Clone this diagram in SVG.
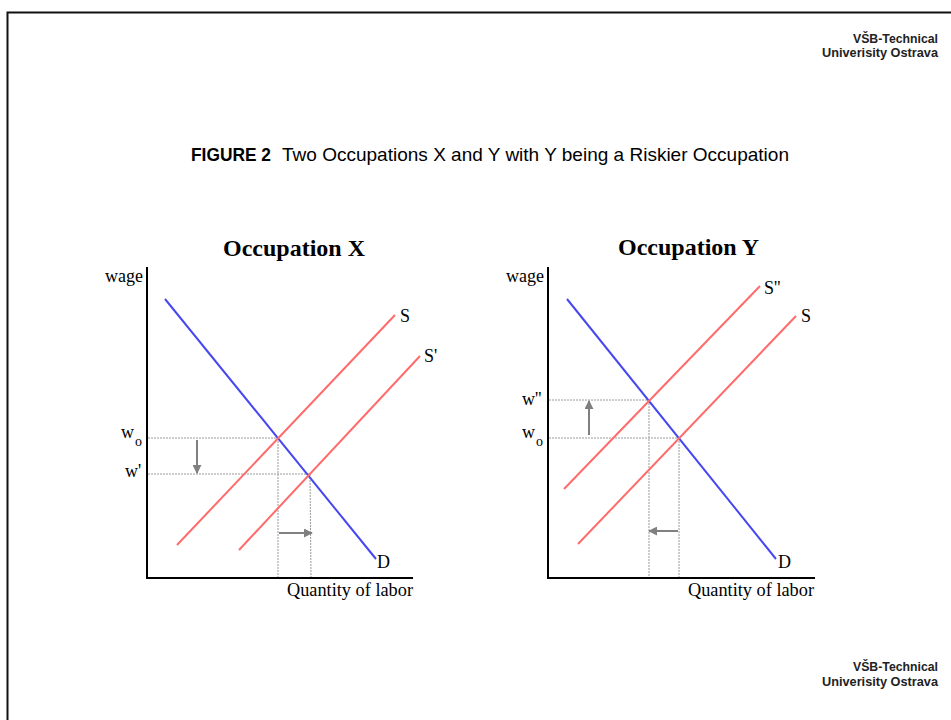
<svg xmlns="http://www.w3.org/2000/svg" width="951" height="720" viewBox="0 0 951 720">
<style>
.frame{fill:none;stroke:#111;stroke-width:2}
.axis{stroke:#000;stroke-width:2;fill:none}
.dem{stroke:#4747f0;stroke-width:2;fill:none}
.sup{stroke:#ff6b6b;stroke-width:2;fill:none}
.dot{stroke:#9a9a9a;stroke-width:1;stroke-dasharray:2 1;fill:none}
.arr{stroke:#808080;stroke-width:2;fill:none}
.lbl{font-family:"Liberation Serif","Times New Roman",serif;font-size:18px;fill:#000}
.sub{font-family:"Liberation Serif","Times New Roman",serif;font-size:14px;fill:#000}
.ttl{font-family:"Liberation Serif","Times New Roman",serif;font-size:24px;font-weight:bold;fill:#000}
.hdr{font-family:"Liberation Sans",Arial,sans-serif;font-size:12.5px;font-weight:bold;fill:#222;text-anchor:end}
.fig{font-family:"Liberation Sans",Arial,sans-serif;font-size:18.5px;fill:#000}
</style>
<defs>
<marker id="ah" viewBox="0 0 10 10" refX="9" refY="5" markerWidth="4.5" markerHeight="4.5" orient="auto" markerUnits="strokeWidth">
<path d="M0,0 L10,5 L0,10 z" fill="#808080"/>
</marker>
</defs>
<rect width="951" height="720" fill="#fff"/>
<path class="frame" d="M7.5,721 V12.5 H952"/>

<g id="header">
<text class="hdr" x="938" y="43" textLength="85" lengthAdjust="spacingAndGlyphs">VŠB-Technical</text>
<text class="hdr" x="938" y="57" textLength="116" lengthAdjust="spacingAndGlyphs">Univerisity Ostrava</text>
</g>
<g id="footer">
<text class="hdr" x="938" y="671" textLength="85" lengthAdjust="spacingAndGlyphs">VŠB-Technical</text>
<text class="hdr" x="938" y="686" textLength="116" lengthAdjust="spacingAndGlyphs">Univerisity Ostrava</text>
</g>
<g id="figure-title">
<text class="fig" x="191" y="161" font-weight="bold" textLength="80" lengthAdjust="spacingAndGlyphs">FIGURE 2</text>
<text class="fig" x="282" y="161" textLength="507" lengthAdjust="spacingAndGlyphs">Two Occupations X and Y with Y being a Riskier Occupation</text>
</g>

<!-- Occupation X -->
<g id="chartX">
<text class="ttl" x="223" y="256">Occupation X</text>
<g id="axesX">
<line class="axis" x1="147" y1="267" x2="147" y2="579"/>
<line class="axis" x1="146" y1="578" x2="413" y2="578"/>
<text class="lbl" x="143" y="282" text-anchor="end">wage</text>
<text class="lbl" x="287" y="596" textLength="126" lengthAdjust="spacingAndGlyphs">Quantity of labor</text>
</g>
<g id="guidesX">
<line class="dot" x1="148" y1="438" x2="278" y2="438"/>
<line class="dot" x1="148" y1="474" x2="309" y2="474"/>
<line class="dot" x1="278" y1="438" x2="278" y2="577"/>
<line class="dot" x1="310" y1="474" x2="311" y2="577"/>
<text class="lbl" x="121" y="438">w</text><text class="sub" x="135" y="446">o</text>
<text class="lbl" x="125" y="477">w'</text>
</g>
<g id="demandX">
<line class="dem" x1="165" y1="299" x2="376" y2="559"/>
<text class="lbl" x="377" y="568">D</text>
</g>
<g id="supplyX">
<line class="sup" x1="177" y1="545" x2="395" y2="315"/>
<text class="lbl" x="400" y="322">S</text>
</g>
<g id="supplyX2">
<line class="sup" x1="239" y1="550" x2="420" y2="356"/>
<text class="lbl" x="424" y="362">S'</text>
</g>
<g id="arrowsX">
<line class="arr" x1="197" y1="440" x2="197" y2="473" marker-end="url(#ah)"/>
<line class="arr" x1="279" y1="533" x2="312" y2="533" marker-end="url(#ah)"/>
</g>
</g>

<!-- Occupation Y -->
<g id="chartY">
<text class="ttl" x="618" y="255">Occupation Y</text>
<g id="axesY">
<line class="axis" x1="548" y1="267" x2="548" y2="579"/>
<line class="axis" x1="547" y1="578" x2="815" y2="578"/>
<text class="lbl" x="544" y="282" text-anchor="end">wage</text>
<text class="lbl" x="688" y="596" textLength="126" lengthAdjust="spacingAndGlyphs">Quantity of labor</text>
</g>
<g id="guidesY">
<line class="dot" x1="549" y1="400" x2="649" y2="400"/>
<line class="dot" x1="549" y1="438" x2="679" y2="438"/>
<line class="dot" x1="649" y1="400" x2="649" y2="577"/>
<line class="dot" x1="679" y1="438" x2="679" y2="577"/>
<text class="lbl" x="522" y="405">w''</text>
<text class="lbl" x="522" y="438">w</text><text class="sub" x="536" y="446">o</text>
</g>
<g id="demandY">
<line class="dem" x1="567" y1="299" x2="776" y2="559"/>
<text class="lbl" x="778" y="568">D</text>
</g>
<g id="supplyY2">
<line class="sup" x1="564" y1="489" x2="760" y2="286"/>
<text class="lbl" x="764" y="294">S''</text>
</g>
<g id="supplyY">
<line class="sup" x1="578" y1="544" x2="796" y2="316"/>
<text class="lbl" x="801" y="322">S</text>
</g>
<g id="arrowsY">
<line class="arr" x1="589" y1="435" x2="589" y2="401" marker-end="url(#ah)"/>
<line class="arr" x1="678" y1="531" x2="649" y2="531" marker-end="url(#ah)"/>
</g>
</g>
</svg>
